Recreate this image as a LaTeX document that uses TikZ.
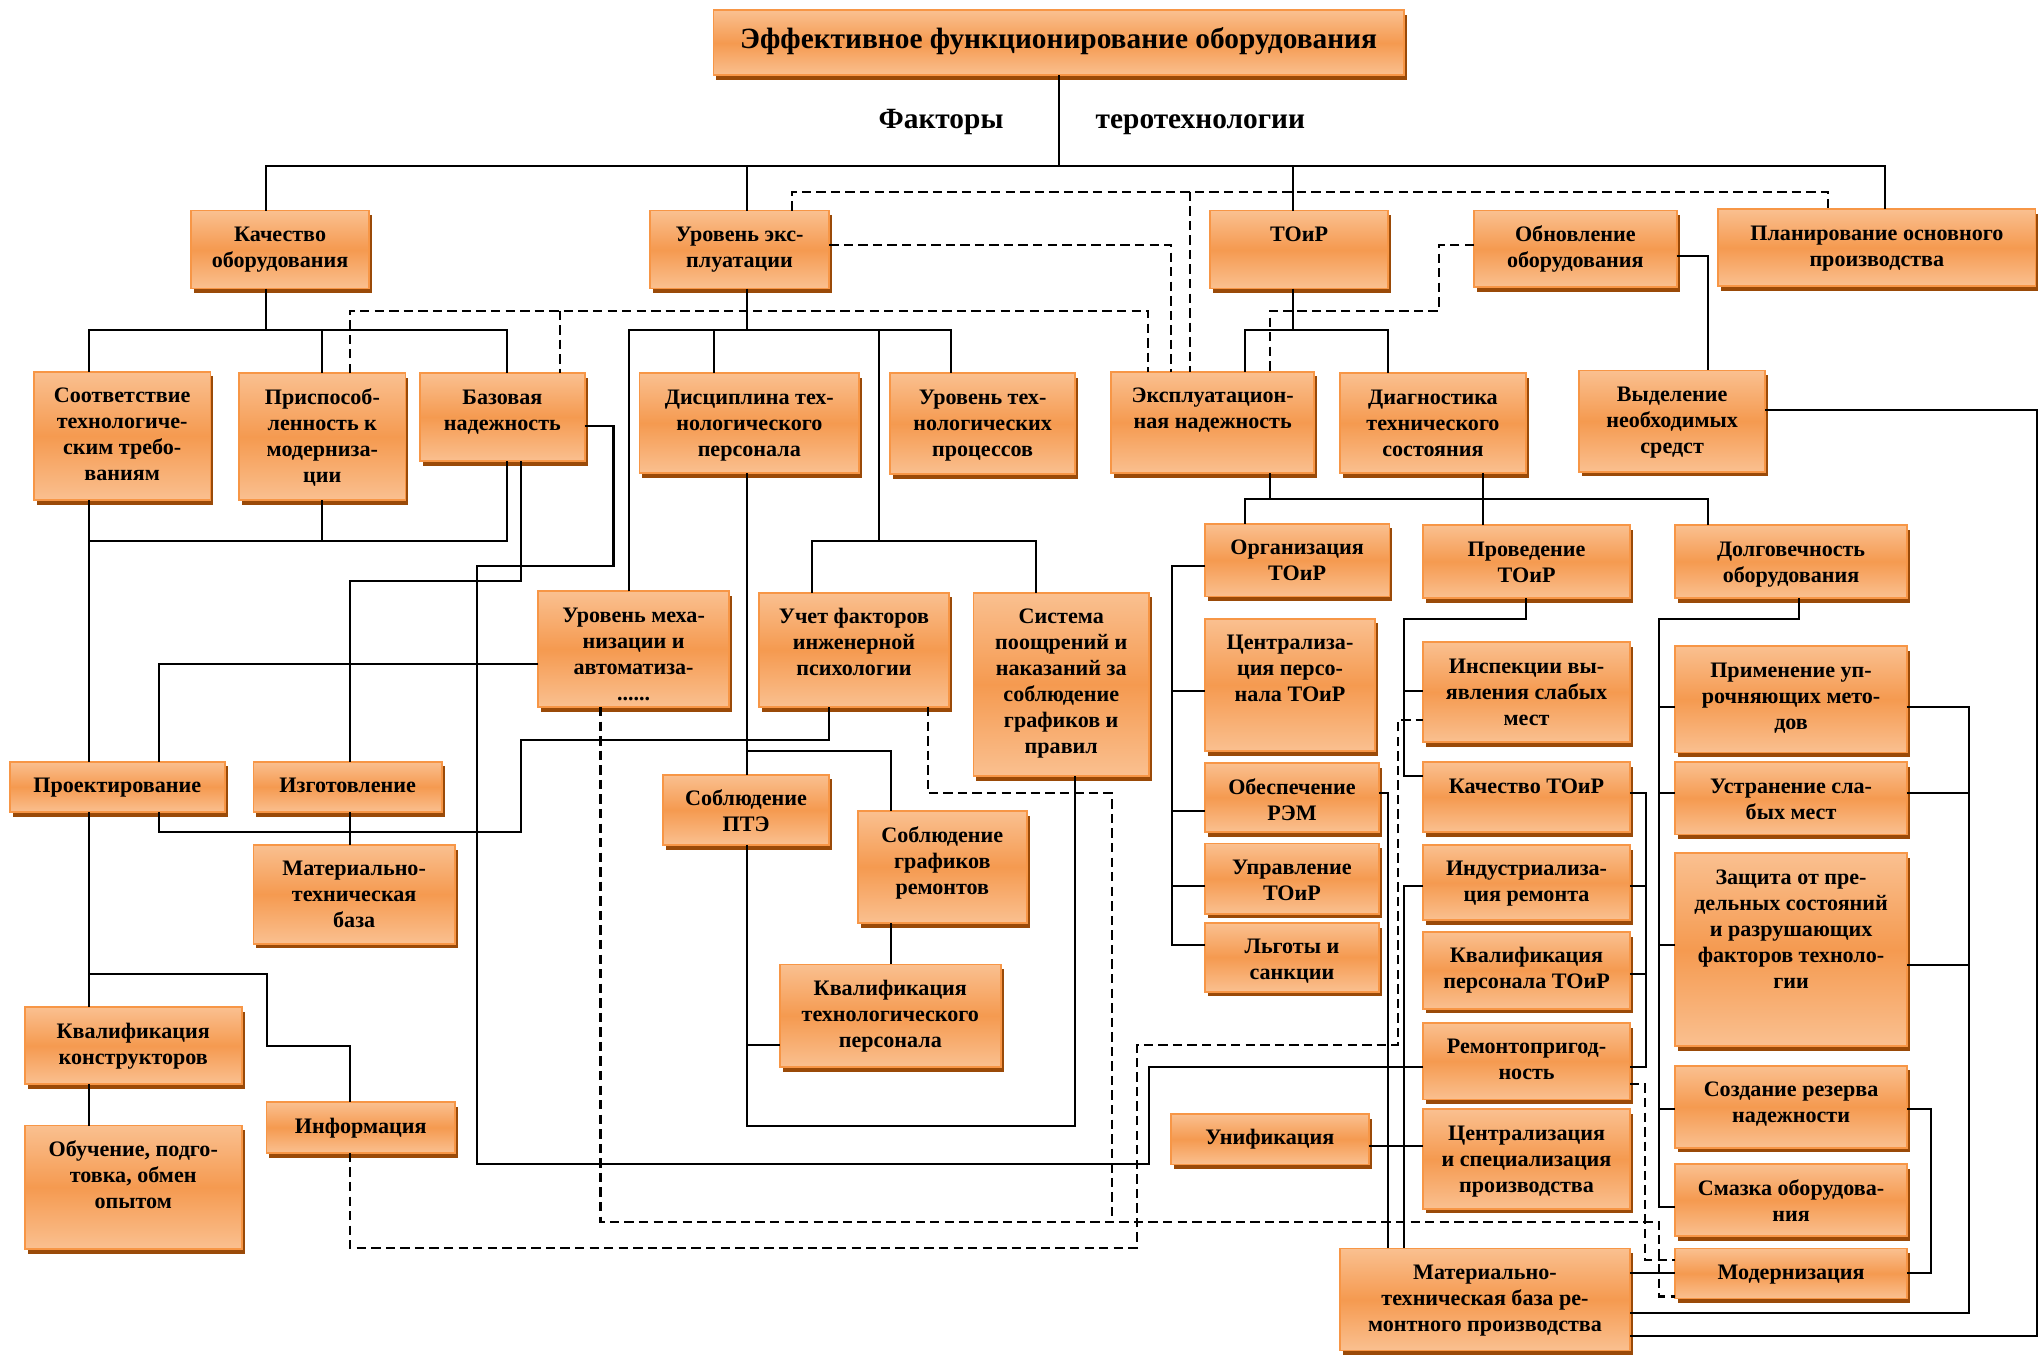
\documentclass[tikz,border=0pt]{standalone}
\usepackage{fontspec}
\setmainfont{Liberation Serif}
\usetikzlibrary{shadows}
\definecolor{oLight}{HTML}{FAC090}
\definecolor{oMid}{HTML}{F59A50}
\definecolor{oEdge}{HTML}{F79646}
\definecolor{oShadow}{HTML}{9A4A08}

% box: name, x1, y1, x2, y2, text (text is top aligned)
\newcommand\obx[6]{%
  \pgfmathsetmacro\bw{((#4)-(#2))*0.5}%
  \pgfmathsetmacro\bh{((#5)-(#3))*0.5}%
  \pgfmathsetmacro\bcx{((#2)+(#4))/2}%
  \pgfmathsetmacro\bcy{((#3)+(#5))/2}%
  \node[obox, minimum width=\bw pt, minimum height=\bh pt] (#1) at (\bcx,\bcy) {};%
  \node[txt] (#1-t) at ([yshift=-4.75pt]#1.north) {\rule{0pt}{7pt}#6};%
}

\begin{document}
\begin{tikzpicture}[x=0.5pt,y=-0.5pt,
  obox/.style={rectangle, draw=oEdge, line width=0.7pt,
    top color=oLight, bottom color=oLight, middle color=oMid,
    general shadow={fill=oShadow, shadow xshift=1.1pt, shadow yshift=-1.8pt},
    inner sep=0pt, outer sep=0pt},
  txt/.style={font=\bfseries\fontsize{8.5}{10}\selectfont, align=center, inner sep=0pt, anchor=north},
  ttl/.style={font=\bfseries\fontsize{11.3}{13}\selectfont, inner sep=0pt},
  ln/.style={line width=0.8pt},
  dsh/.style={line width=0.8pt, dash pattern=on 3.6pt off 2pt}]
\useasboundingbox (0,0) rectangle (1568,1042);

% ---------- title ----------
\node[obox, minimum width=265.5pt, minimum height=25pt] (top) at (814.5,33) {};
\node[ttl, anchor=base] (top-t) at (814.5,37.5) {Эффективное функционирование оборудования};
\node[ttl, anchor=base] (fakt) at (724,99) {Факторы};
\node[ttl, anchor=base] (tero) at (923.5,99) {теротехнологии};

% ---------- first level ----------
\obx{kach}{147}{162}{284}{222}{Качество\\оборудования}
\obx{urexp}{500}{162}{638}{222}{Уровень экс-\\плуатации}
\obx{toir}{931}{162}{1068}{222}{ТОиР}
\obx{obnov}{1134}{162}{1290}{221}{Обновление\\оборудования}
\obx{plan}{1322}{161}{1566}{220}{Планирование основного\\производства}

% ---------- second level ----------
\obx{sootv}{26}{286}{162}{385}{Соответствие\\технологиче-\\ским требо-\\ваниям}
\obx{prispos}{184}{287}{312}{385}{Приспособ-\\ленность к\\модерниза-\\ции}
\obx{bazov}{323}{287}{450}{355}{Базовая\\надежность}
\obx{discip}{492}{287}{661}{364}{Дисциплина тех-\\нологического\\персонала}
\obx{urtech}{685}{287}{827}{365}{Уровень тех-\\нологических\\процессов}
\obx{expl}{855}{286}{1011}{364}{Эксплуатацион-\\ная надежность}
\obx{diagn}{1031}{287}{1174}{364}{Диагностика\\технического\\состояния}
\obx{vydel}{1215}{285}{1358}{363}{Выделение\\необходимых\\средст}

% ---------- third level ----------
\obx{urmech}{414}{455}{561}{544}{Уровень меха-\\низации и\\автоматиза-\\......}
\obx{uchet}{584}{456}{730}{544}{Учет факторов\\инженерной\\психологии}
\obx{sistema}{749}{456}{884}{597}{Система\\поощрений и\\наказаний за\\соблюдение\\графиков и\\правил}
\obx{org}{927}{403}{1069}{459}{Организация\\ТОиР}
\obx{proved}{1095}{404}{1254}{460}{Проведение\\ТОиР}
\obx{dolg}{1289}{404}{1467}{460}{Долговечность\\оборудования}

% ---------- left branch ----------
\obx{proekt}{7.5}{586}{173}{625}{Проектирование}
\obx{izgot}{195}{586}{340}{625}{Изготовление}
\obx{mtb}{195}{650}{350}{726}{Материально-\\техническая\\база}
\obx{kvkons}{19}{775}{186}{834}{Квалификация\\конструкторов}
\obx{obuch}{19}{866}{186}{961}{Обучение, подго-\\товка, обмен\\опытом}
\obx{inform}{205}{848}{350}{887}{Информация}

% ---------- middle branch ----------
\obx{ptae}{510}{596}{638}{650}{Соблюдение\\ПТЭ}
\obx{sobgraf}{660}{624}{790}{710}{Соблюдение\\графиков\\ремонтов}
\obx{kvtech}{600}{742}{770}{821}{Квалификация\\технологического\\персонала}
\obx{unif}{901}{857}{1053}{896}{Унификация}

% ---------- organisation column ----------
\obx{centrp}{927}{476}{1058}{578}{Централиза-\\ция персо-\\нала ТОиР}
\obx{obesp}{927}{587}{1061}{640}{Обеспечение\\РЭМ}
\obx{uprav}{927}{649}{1061}{703}{Управление\\ТОиР}
\obx{lgoty}{927}{710}{1061}{763}{Льготы и\\санкции}

% ---------- maintenance column ----------
\obx{insp}{1095}{494}{1254}{571}{Инспекции вы-\\явления слабых\\мест}
\obx{kachtoir}{1095}{586.5}{1254}{640}{Качество ТОиР}
\obx{indust}{1095}{650}{1254}{708}{Индустриализа-\\ция ремонта}
\obx{kvtoir}{1095}{717}{1254}{776}{Квалификация\\персонала ТОиР}
\obx{remont}{1095}{787}{1254}{846}{Ремонтопригод-\\ность}
\obx{centrsp}{1095}{853.5}{1254}{930}{Централизация\\и специализация\\производства}
\obx{mtbr}{1031}{960.5}{1254}{1039}{Материально-\\техническая база ре-\\монтного производства}

% ---------- durability column ----------
\obx{prim}{1289}{497}{1467}{579}{Применение уп-\\рочняющих мето-\\дов}
\obx{ustr}{1289}{586.5}{1467}{642}{Устранение сла-\\бых мест}
\obx{zasch}{1289}{656.5}{1467}{805}{Защита от пре-\\дельных состояний\\и разрушающих\\факторов техноло-\\гии}
\obx{sozd}{1289}{820}{1467}{883}{Создание резерва\\надежности}
\obx{smaz}{1289}{895.6}{1467}{951}{Смазка оборудова-\\ния}
\obx{modern}{1289}{960.5}{1467}{999}{Модернизация}

% ================= connectors =================
% trunk
\draw[ln] (top.south) -- (top.south |- 0,128);
\draw[ln] (205,0 |- kach.north) |- (1450,128) -- (1450,0 |- plan.north);
\draw[ln] (575,128) -- (575,0 |- urexp.north);
\draw[ln] (995,128) -- (995,0 |- toir.north);

% dashed links of the upper part
\draw[dsh] (609,0 |- urexp.north) |- (1406.6,147.5) -- (1406.6,0 |- plan.north);
\draw[dsh] (915.5,147.5) -- (915.5,0 |- expl.north);
\draw[dsh] (urexp.east |- 0,188.5) -| (901,0 |- expl.north);
\draw[dsh] (269,0 |- prispos.north) |- (883,239) -- (883,0 |- expl.north);
\draw[dsh] (431,239) -- (431,0 |- bazov.north);
\draw[dsh] (obnov.west |- 0,188.5) -| (1107,239) -| (977,0 |- expl.north);

% quality of equipment
\draw[ln] (205,0 |- kach.south) -- (205,254);
\draw[ln] (68.7,0 |- sootv.north) |- (390,254) -- (390,0 |- bazov.north);
\draw[ln] (248,254) -- (248,0 |- prispos.north);

% level of operation
\draw[ln] (575,0 |- urexp.south) -- (575,254);
\draw[ln] (484,0 |- urmech.north) |- (731.7,254) -- (731.7,0 |- urtech.north);
\draw[ln] (549,254) -- (549,0 |- discip.north);
\draw[ln] (676,254) -- (676,416);
\draw[ln] (624.5,0 |- uchet.north) |- (797,416) -- (797,0 |- sistema.north);

% maintenance and repair
\draw[ln] (995,0 |- toir.south) -- (995,254);
\draw[ln] (958,0 |- expl.north) |- (1068,254) -- (1068,0 |- diagn.north);

% renewal -> funds -> repair base
\draw[ln] (obnov.east |- 0,197) -| (1314,0 |- vydel.north);
\draw[ln] (vydel.east |- 0,315.5) -| (1567,1027.7) -- (mtbr.east |- 0,1027.7);

% operational reliability / diagnostics
\draw[ln] (977,0 |- expl.south) -- (977,384);
\draw[ln] (958,0 |- org.north) |- (1314,384) -- (1314,0 |- dolg.north);
\draw[ln] (1141,0 |- diagn.south) -- (1141,0 |- proved.north);

% organisation column
\draw[ln] (org.west |- 0,435.5) -| (901.8,727) -- (lgoty.west |- 0,727);
\draw[ln] (901.8,531.4) -- (centrp.west |- 0,531.4);
\draw[ln] (901.8,624) -- (obesp.west |- 0,624);
\draw[ln] (901.8,682) -- (uprav.west |- 0,682);

% maintenance column
\draw[ln] (1174,0 |- proved.south) |- (1080,476.5) |- (kachtoir.west |- 0,596.8);
\draw[ln] (1080,531.4) -- (insp.west |- 0,531.4);
\draw[ln] (obesp.east |- 0,610) -| (1068,0 |- mtbr.north);
\draw[ln] (indust.west |- 0,682) -| (1080,0 |- mtbr.north);
\draw[ln] (kachtoir.east |- 0,610.4) -| (1266.4,820.7) -- (remont.east |- 0,820.7);
\draw[ln] (indust.east |- 0,682) -- (1266.4,682);
\draw[ln] (kvtoir.east |- 0,749.6) -- (1266.4,749.6);
\draw[ln] (unif.east |- 0,882) -- (centrsp.west |- 0,882);

% base reliability -> maintainability
\draw[ln] (bazov.east |- 0,327.5) -| (472,435.4) -| (366.8,895.6) -| (884,820.7) -- (remont.west |- 0,820.7);

% left branch
\draw[ln] (68.7,0 |- sootv.south) -- (68.7,0 |- proekt.north);
\draw[ln] (68.7,416) -| (390,0 |- bazov.south);
\draw[ln] (248,0 |- prispos.south) -- (248,416);
\draw[ln] (400.5,0 |- bazov.south) |- (269,447) -- (269,0 |- izgot.north);
\draw[ln] (urmech.west |- 0,511) -| (122,0 |- proekt.north);
\draw[ln] (637.5,0 |- uchet.south) |- (400.5,569) |- (122,640) -- (122,0 |- proekt.south);
\draw[ln] (269,0 |- izgot.south) -- (269,0 |- mtb.north);
\draw[ln] (68.7,0 |- proekt.south) -- (68.7,0 |- kvkons.north);
\draw[ln] (68.7,749.6) -| (205.4,804.6) -| (269,0 |- inform.north);
\draw[ln] (68.7,0 |- kvkons.south) -- (68.7,0 |- obuch.north);

% discipline branch
\draw[ln] (575,0 |- discip.south) -- (575,0 |- ptae.north);
\draw[ln] (575,578) -| (685.3,0 |- sobgraf.north);
\draw[ln] (575,0 |- ptae.south) |- (827,866) -- (827,0 |- sistema.south);
\draw[ln] (575,804) -- (kvtech.west |- 0,804);
\draw[ln] (685.3,0 |- sobgraf.south) -- (685.3,0 |- kvtech.north);

% durability column
\draw[ln] (1383.8,0 |- dolg.south) |- (1276.6,476.5) |- (smaz.west |- 0,928.4);
\draw[ln] (1276.6,543.7) -- (prim.west |- 0,543.7);
\draw[ln] (1276.6,610.4) -- (ustr.west |- 0,610.4);
\draw[ln] (1276.6,727) -- (zasch.west |- 0,727);
\draw[ln] (1276.6,853.3) -- (sozd.west |- 0,853.3);
\draw[ln] (prim.east |- 0,543.7) -| (1515,1010.5) -- (mtbr.east |- 0,1010.5);
\draw[ln] (ustr.east |- 0,610.4) -- (1515,610.4);
\draw[ln] (zasch.east |- 0,742.5) -- (1515,742.5);
\draw[ln] (sozd.east |- 0,853.3) -| (1485.5,979.7) -- (modern.east |- 0,979.7);
\draw[ln] (mtbr.east |- 0,979.7) -- (modern.west |- 0,979.7);

% dashed links of the lower part
\draw[dsh] (269,0 |- inform.south) |- (874.6,960) |- (1075.6,804) |- (insp.west |- 0,554);
\draw[dsh] (462,0 |- urmech.south) |- (1276.7,940) |- (modern.west |- 0,997.5);
\draw[dsh] (713.8,0 |- uchet.south) |- (855.6,610.4) -- (855.6,940);
\draw[dsh] (remont.east |- 0,834) -| (1265.6,969.5) -- (modern.west |- 0,969.5);
\end{tikzpicture}
\end{document}
